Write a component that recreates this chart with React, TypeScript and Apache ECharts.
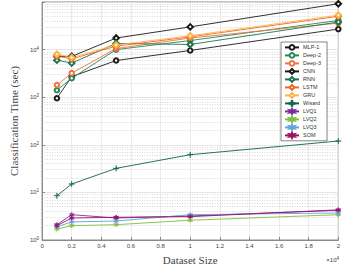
import React, { useEffect, useRef } from "react";
import * as echarts from "echarts";

const datasetSizes = [1000, 2000, 5000, 10000, 20000];

const mlp1 = [950, 2700, 5900, 9600, 27000];
const deep2 = [1400, 2500, 10000, 15500, 41000];
const deep3 = [1800, 3200, 10500, 17500, 36000];
const cnn = [7200, 7200, 17500, 30000, 92000];
const rnn = [6000, 5200, 13500, 12800, 38000];
const lstm = [7300, 6400, 11800, 18500, 50000];
const gru = [8000, 6800, 12500, 19500, 53000];
const wisard = [8.5, 15, 32, 62, 120];
const lvq1 = [2.1, 3.4, 2.9, 3.2, 4.2];
const lvq2 = [1.7, 2.0, 2.1, 2.6, 3.4];
const lvq3 = [1.9, 2.4, 2.5, 3.4, 3.7];
const som = [2.0, 2.9, 3.0, 3.1, 4.3];

const minorGridValues = [1, 10, 100, 1000, 10000].flatMap((d) =>
  [2, 3, 4, 5, 6, 7, 8, 9].map((m) => m * d)
);

const PLUS = "path://M4.5,0h1v4.5h4.5v1h-4.5v4.5h-1v-4.5h-4.5v-1h4.5z";
const STAR =
  "path://M5,0L6.1,3.1L9.3,2.5L7.2,5L9.3,7.5L6.1,6.9L5,10L3.9,6.9L0.7,7.5L2.8,5L0.7,2.5L3.9,3.1Z";

type S = { name: string; data: number[]; color: string; symbol: string; size: number };

const seriesDefs: S[] = [
  { name: "MLP-1", data: mlp1, color: "#1a1a1a", symbol: "emptyCircle", size: 4.5 },
  { name: "Deep-2", data: deep2, color: "#23885a", symbol: "emptyCircle", size: 4.5 },
  { name: "Deep-3", data: deep3, color: "#ee7342", symbol: "emptyCircle", size: 4.5 },
  { name: "CNN", data: cnn, color: "#1a1a1a", symbol: "emptyDiamond", size: 5.5 },
  { name: "RNN", data: rnn, color: "#1b7550", symbol: "emptyDiamond", size: 5.5 },
  { name: "LSTM", data: lstm, color: "#f26522", symbol: "emptyDiamond", size: 5.5 },
  { name: "GRU", data: gru, color: "#fbb445", symbol: "emptyDiamond", size: 5.5 },
  { name: "Wisard", data: wisard, color: "#0c6544", symbol: PLUS, size: 5.5 },
  { name: "LVQ1", data: lvq1, color: "#7b2d9e", symbol: STAR, size: 5 },
  { name: "LVQ2", data: lvq2, color: "#7fbf3a", symbol: STAR, size: 5 },
  { name: "LVQ3", data: lvq3, color: "#62a2e0", symbol: STAR, size: 5 },
  { name: "SOM", data: som, color: "#9e1060", symbol: STAR, size: 5 },
];

export default function App() {
  const ref = useRef<HTMLDivElement>(null);
  useEffect(() => {
    if (!ref.current) return;
    const chart = echarts.init(ref.current, undefined, { renderer: "svg" });
    const series: any[] = seriesDefs.map((s, i) => ({
      name: s.name,
      type: "line",
      data: datasetSizes.map((x, j) => [x, s.data[j]]),
      symbol: s.symbol,
      symbolSize: s.size,
      showSymbol: true,
      lineStyle: { color: s.color, width: 0.9 },
      itemStyle: {
        color: s.color,
        borderColor: s.color,
        borderWidth: s.symbol.startsWith("empty") ? 0.8 : 0.4,
      },
      z: 5,
      ...(i === 0
        ? {
            markLine: {
              silent: true,
              symbol: "none",
              label: { show: false },
              emphasis: { disabled: true },
              lineStyle: { color: "#bdbdbd", type: [1, 1.5], width: 0.6 },
              data: minorGridValues.map((v) => ({ yAxis: v })),
              z: 1,
            },
          }
        : {}),
    }));

    chart.setOption({
      animation: false,
      backgroundColor: "#ffffff",
      grid: {
        left: 29,
        right: 4,
        top: 2,
        bottom: 23,
        show: true,
        borderColor: "#8a8a8a",
        borderWidth: 1,
        backgroundColor: "transparent",
      },
      legend: {
        data: seriesDefs.map((s) => s.name),
        orient: "vertical",
        left: 281,
        top: 42,
        padding: [2, 6, 2, 3],
        itemWidth: 14,
        itemHeight: 6,
        itemGap: 1.2,
        backgroundColor: "#ffffff",
        borderColor: "#333333",
        borderWidth: 0.6,
        textStyle: { fontSize: 5.5, color: "#333", fontFamily: "Liberation Sans", padding: [0, 0, 0, -1] },
      },
      xAxis: {
        type: "value",
        min: 0,
        max: 20000,
        interval: 2000,
        name: "Dataset Size",
        nameLocation: "middle",
        nameGap: 14,
        nameTextStyle: { fontFamily: "Liberation Serif", fontSize: 11, color: "#444" },
        axisLine: { show: true, lineStyle: { color: "#8a8a8a" } },
        axisTick: { show: true, inside: true, length: 3, lineStyle: { color: "#8a8a8a" } },
        axisLabel: {
          fontSize: 6,
          color: "#444",
          fontFamily: "Liberation Sans",
          margin: 3,
          formatter: (v: number) => String(Math.round(v / 1000) / 10),
        },
        splitLine: { show: true, lineStyle: { color: "#e6e6e6", width: 0.8 } },
      },
      yAxis: {
        type: "log",
        logBase: 10,
        min: 1,
        max: 100000,
        name: "Classification Time (sec)",
        nameLocation: "middle",
        nameGap: 18,
        nameTextStyle: { fontFamily: "Liberation Serif", fontSize: 11, color: "#444" },
        axisLine: { show: true, lineStyle: { color: "#8a8a8a" } },
        axisTick: { show: true, inside: true, length: 3, lineStyle: { color: "#8a8a8a" } },
        axisLabel: {
          color: "#444",
          margin: 3,
          formatter: (v: number) => {
            const e = Math.round(Math.log10(v));
            if (e >= 5) return "";
            return `{b|10}{s|${e}}`;
          },
          rich: {
            b: { fontSize: 6, fontFamily: "Liberation Sans", color: "#444" },
            s: { fontSize: 4.5, fontFamily: "Liberation Sans", color: "#444", verticalAlign: "top", padding: [0, 0, 3, 0] },
          },
        },
        splitLine: { show: true, lineStyle: { color: "#e0e0e0", width: 0.8 } },
      },
      graphic: [
        {
          type: "text",
          right: 4,
          top: 256,
          style: {
            text: "{b|×10}{s|4}",
            rich: {
              b: { fontSize: 6, fontFamily: "Liberation Sans", fill: "#444" },
              s: { fontSize: 4.5, fontFamily: "Liberation Sans", fill: "#444", verticalAlign: "top", padding: [0, 0, 3, 0] },
            },
          },
        },
      ],
      series,
    });
    return () => chart.dispose();
  }, []);
  return (
    <div
      ref={ref}
      style={{ position: "fixed", left: 0, top: 0, width: 343, height: 270, background: "#fff" }}
    />
  );
}
